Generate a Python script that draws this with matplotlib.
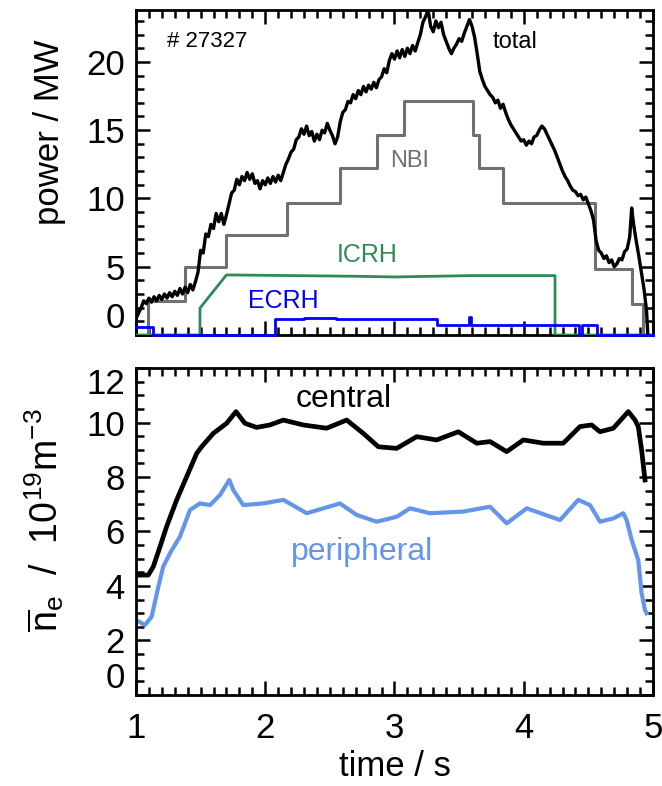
import numpy as np
import matplotlib.pyplot as plt
from matplotlib.ticker import MultipleLocator

plt.rcParams['font.family'] = ['Liberation Sans', 'DejaVu Sans']
plt.rcParams['mathtext.fontset'] = 'custom'
plt.rcParams['mathtext.rm'] = 'Liberation Sans'
plt.rcParams['mathtext.it'] = 'Liberation Sans:italic'
plt.rcParams['mathtext.default'] = 'regular'

SHOT = '# 27327'

# 加热功率 / MW
total_t = [1.00, 1.02, 1.04, 1.06, 1.08, 1.10, 1.12, 1.14, 1.16, 1.18, 1.20, 1.22,
           1.24, 1.26, 1.28, 1.30, 1.32, 1.34, 1.36, 1.38, 1.40, 1.42, 1.44, 1.46,
           1.48, 1.50, 1.52, 1.54, 1.56, 1.58, 1.60, 1.62, 1.64, 1.66, 1.68, 1.70,
           1.72, 1.74, 1.76, 1.78, 1.80, 1.82, 1.84, 1.86, 1.88, 1.90, 1.92, 1.94,
           1.96, 1.98, 2.00, 2.02, 2.04, 2.06, 2.08, 2.10, 2.12, 2.14, 2.16, 2.18,
           2.20, 2.22, 2.24, 2.26, 2.28, 2.30, 2.32, 2.34, 2.36, 2.38, 2.40, 2.42,
           2.44, 2.46, 2.48, 2.50, 2.52, 2.54, 2.56, 2.58, 2.60, 2.62, 2.64, 2.66,
           2.68, 2.70, 2.72, 2.74, 2.76, 2.78, 2.80, 2.82, 2.84, 2.86, 2.88, 2.90,
           2.92, 2.94, 2.96, 2.98, 3.00, 3.02, 3.04, 3.06, 3.08, 3.10, 3.12, 3.14,
           3.16, 3.18, 3.20, 3.22, 3.24, 3.26, 3.28, 3.30, 3.32, 3.34, 3.36, 3.38,
           3.40, 3.42, 3.44, 3.46, 3.48, 3.50, 3.52, 3.54, 3.56, 3.58, 3.60, 3.62,
           3.64, 3.66, 3.68, 3.70, 3.72, 3.74, 3.76, 3.78, 3.80, 3.82, 3.84, 3.86,
           3.88, 3.90, 3.92, 3.94, 3.96, 3.98, 4.00, 4.02, 4.04, 4.06, 4.08, 4.10,
           4.12, 4.14, 4.16, 4.18, 4.20, 4.22, 4.24, 4.26, 4.28, 4.30, 4.32, 4.34,
           4.36, 4.38, 4.40, 4.42, 4.44, 4.46, 4.48, 4.50, 4.52, 4.54, 4.56, 4.58,
           4.60, 4.62, 4.64, 4.66, 4.68, 4.70, 4.72, 4.74, 4.76, 4.78, 4.80, 4.82,
           4.835, 4.85, 4.87, 4.89, 4.91, 4.93, 4.95, 4.96]
total_p = [1.2, 1.6, 2.0, 2.5, 2.3, 2.7, 2.4, 2.8, 2.5, 2.9, 2.6, 3.0,
           2.7, 3.1, 2.8, 3.2, 2.9, 3.4, 3.0, 3.5, 3.1, 3.7, 3.3, 3.9,
           4.6, 6.2, 6.0, 7.4, 7.2, 8.1, 7.8, 8.9, 8.3, 8.9, 8.1, 8.8,
           9.6, 10.4, 10.6, 11.4, 11.0, 11.6, 11.3, 11.9, 11.4, 11.8, 11.1, 11.3,
           10.7, 11.3, 11.0, 11.5, 11.1, 11.6, 11.2, 11.7, 11.3, 11.9, 12.5, 12.9,
           13.4, 13.6, 14.3, 14.5, 15.1, 14.7, 15.3, 14.6, 14.9, 14.2, 14.7, 14.3,
           15.0, 14.8, 15.5, 15.0, 14.6, 14.0, 14.5, 15.6, 16.3, 16.5, 17.1, 17.0,
           17.6, 17.3, 17.9, 17.6, 18.2, 17.8, 18.3, 18.0, 18.5, 18.1, 18.7, 18.9,
           19.5, 19.2, 20.1, 20.6, 20.2, 20.8, 20.3, 20.9, 20.4, 21.0, 20.6, 21.2,
           20.8, 21.4, 22.0, 22.9, 23.3, 23.8, 22.6, 22.2, 23.0, 22.5, 22.9, 22.0,
           21.5, 21.0, 20.6, 21.0, 21.3, 21.7, 21.5, 22.1, 22.6, 23.1, 22.6, 21.8,
           20.6, 19.3, 18.7, 18.2, 17.9, 17.6, 17.4, 17.0, 17.2, 16.6, 16.9, 16.3,
           15.8, 15.4, 15.1, 14.8, 14.5, 14.2, 14.3, 13.9, 14.2, 14.0, 14.5, 14.6,
           15.0, 15.3, 15.1, 14.7, 14.3, 13.9, 13.5, 13.0, 12.5, 12.0, 11.6, 11.3,
           10.9, 10.6, 10.5, 10.2, 10.3, 9.9, 10.1, 9.6, 9.1, 8.4, 6.9, 6.2,
           6.0, 5.6, 5.8, 5.3, 5.5, 5.0, 5.2, 5.6, 5.5, 6.1, 6.3, 7.2,
           9.3, 8.1, 6.9, 5.8, 4.6, 3.4, 1.8, 0.0]

nbi_t = [1.00, 1.093, 1.38, 1.70, 2.166, 2.578, 2.862, 3.074, 3.605, 3.65, 3.837,
         4.55, 4.84, 4.92, 5.00]
nbi_p = [0.0, 2.5, 5.0, 7.3, 9.7, 12.2, 14.65, 17.1, 14.65, 12.2, 9.7,
         4.8, 2.3, 0.0, 0.0]

icrh_t = [1.00, 1.495, 1.495, 1.70, 2.20, 2.70, 3.00, 3.30, 3.60, 4.242, 4.242, 5.00]
icrh_p = [0.0, 0.0, 1.97, 4.4, 4.35, 4.3, 4.25, 4.3, 4.35, 4.35, 0.0, 0.0]

ecrh_t = [1.00, 1.13, 2.075, 2.30, 2.55, 3.326, 3.575, 3.59, 4.43, 4.45, 4.57, 5.00]
ecrh_p = [0.55, 0.0, 1.15, 1.25, 1.15, 0.75, 1.3, 0.75, 0.0, 0.75, 0.0, 0.0]

# 线平均密度 / 10^19 m^-3
central_t = [1.00, 1.095, 1.134, 1.186, 1.237, 1.315, 1.392, 1.470, 1.508, 1.598,
             1.701, 1.774, 1.843, 1.934, 2.037, 2.140, 2.294, 2.475, 2.630, 2.759,
             2.875, 3.017, 3.172, 3.326, 3.494, 3.636, 3.739, 3.868, 3.997, 4.151,
             4.306, 4.435, 4.525, 4.590, 4.693, 4.809, 4.861, 4.886, 4.912, 4.938]
central_n = [4.40, 4.40, 4.71, 5.44, 6.18, 7.16, 8.01, 8.87, 9.11, 9.60,
             9.97, 10.40, 9.97, 9.82, 9.91, 10.09, 9.91, 9.79, 10.09, 9.60,
             9.11, 9.05, 9.48, 9.36, 9.66, 9.24, 9.30, 8.93, 9.36, 9.24,
             9.24, 9.85, 9.91, 9.66, 9.79, 10.40, 10.09, 9.85, 8.99, 7.89]

periph_t = [1.00, 1.070, 1.121, 1.173, 1.211, 1.263, 1.340, 1.418, 1.495, 1.573,
            1.650, 1.722, 1.753, 1.830, 1.985, 2.140, 2.321, 2.578, 2.707, 2.862,
            3.017, 3.120, 3.275, 3.532, 3.739, 3.868, 4.023, 4.281, 4.422, 4.513,
            4.590, 4.693, 4.770, 4.796, 4.835, 4.886, 4.912, 4.938, 4.950]
periph_n = [2.75, 2.57, 2.87, 3.97, 4.71, 5.20, 5.81, 6.79, 7.03, 6.97,
            7.34, 7.89, 7.52, 6.97, 7.03, 7.16, 6.67, 7.03, 6.61, 6.36,
            6.54, 6.85, 6.67, 6.73, 6.91, 6.30, 6.85, 6.42, 7.16, 6.97,
            6.36, 6.48, 6.67, 6.42, 5.69, 4.95, 3.73, 3.12, 3.00]

C_TOTAL = 'black'
C_NBI = '#707070'
C_ICRH = '#2e8b57'
C_ECRH = '#0000ff'
C_PERIPH = '#6495ed'

TICK_FS = 25
LABEL_FS = 25


def style_axis(ax, ymajor, yminor):
    ax.set_xlim(1, 5)
    ax.xaxis.set_major_locator(MultipleLocator(1))
    ax.xaxis.set_minor_locator(MultipleLocator(0.1))
    ax.yaxis.set_major_locator(MultipleLocator(ymajor))
    ax.yaxis.set_minor_locator(MultipleLocator(yminor))
    ax.tick_params(which='both', direction='in', top=True, right=True,
                   width=1.8, labelsize=TICK_FS)
    ax.tick_params(which='major', length=10)
    ax.tick_params(which='minor', length=6)
    ax.tick_params(axis='x', pad=12)
    ax.tick_params(axis='y', pad=8)
    for sp in ax.spines.values():
        sp.set_linewidth(2)


fig = plt.figure(figsize=(6.62, 7.86), dpi=100)
ax1 = fig.add_axes([0.2054, 0.5738, 0.781, 0.4135])
ax2 = fig.add_axes([0.2054, 0.1158, 0.781, 0.416])

# 上图：加热功率
ax1.plot(total_t, total_p, color=C_TOTAL, lw=2.4, zorder=4)
ax1.step(nbi_t, nbi_p, where='post', color=C_NBI, lw=2.2, zorder=3)
ax1.plot(icrh_t, icrh_p, color=C_ICRH, lw=2.0, zorder=3)
ax1.step(ecrh_t, ecrh_p, where='post', color=C_ECRH, lw=2.0, zorder=5, clip_on=False)
style_axis(ax1, 5, 1)
ax1.set_ylim(0, 23.8)
ax1.set_yticks([0, 5, 10, 15, 20])
ax1.tick_params(axis='x', labelbottom=False)
ax1.set_ylabel('power / MW', fontsize=LABEL_FS)
ax1.yaxis.set_label_coords(-0.135, 0.625)
ax1.yaxis.get_major_ticks()[0].label1.set_va('bottom')

ax1.text(1.549, 21.1, SHOT, fontsize=16, ha='center', va='baseline')
ax1.text(3.93, 21.0, 'total', fontsize=17, ha='center', va='baseline', color=C_TOTAL)
ax1.text(3.12, 12.3, 'NBI', fontsize=17, ha='center', va='baseline', color=C_NBI)
ax1.text(2.787, 5.35, 'ICRH', fontsize=18, ha='center', va='baseline', color=C_ICRH)
ax1.text(2.137, 1.98, 'ECRH', fontsize=18, ha='center', va='baseline', color=C_ECRH)

# 下图：线平均密度
ax2.plot(central_t, central_n, color='black', lw=3.4)
ax2.plot(periph_t, periph_n, color=C_PERIPH, lw=3.0)
style_axis(ax2, 2, 0.5)
ax2.set_ylim(0, 12)
ax2.set_yticks([0, 2, 4, 6, 8, 10, 12])
ticks = ax2.yaxis.get_major_ticks()
ticks[0].label1.set_va('bottom')
ticks[-1].label1.set_va('top')
ax2.xaxis.get_major_ticks()[-1].label1.set_ha('right')
ax2.set_xlabel('time / s', fontsize=LABEL_FS, labelpad=4)
ax2.set_ylabel(r'$\overline{n}_e$  /  10$^{19}$m$^{-3}$', fontsize=27)
ax2.yaxis.set_label_coords(-0.135, 0.535)

ax2.text(2.61, 10.57, 'central', fontsize=23, ha='center', va='baseline', color='black')
ax2.text(2.75, 4.95, 'peripheral', fontsize=23, ha='center', va='baseline', color=C_PERIPH)

fig.savefig('out.png', dpi=100)
